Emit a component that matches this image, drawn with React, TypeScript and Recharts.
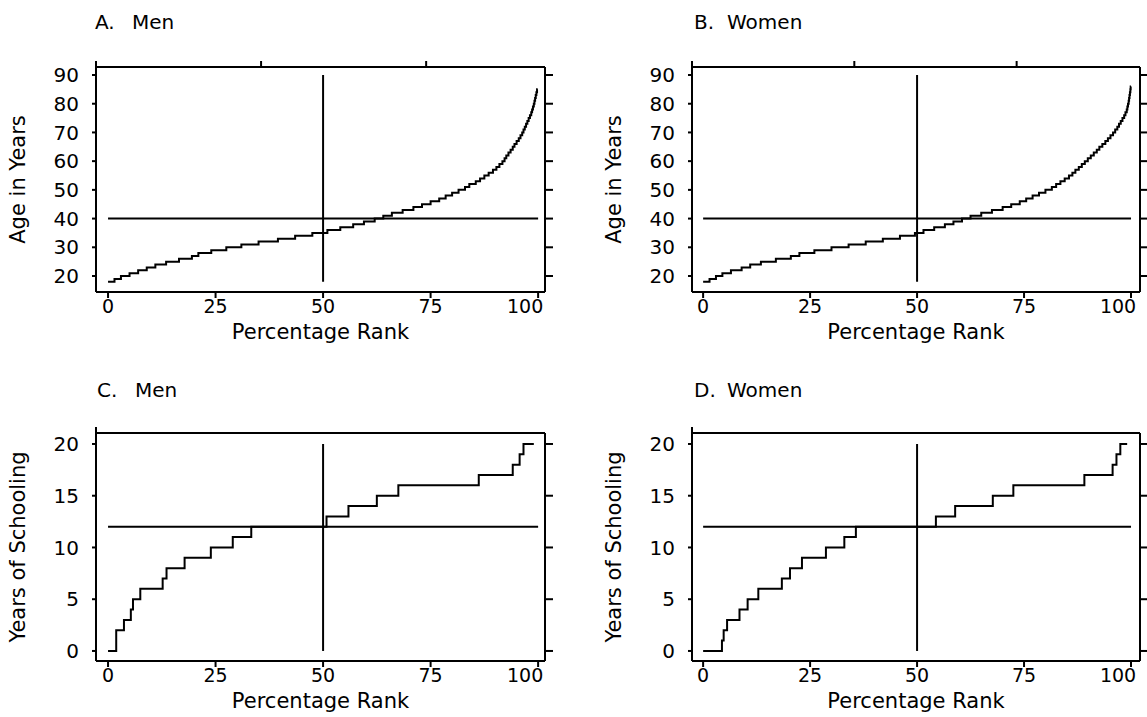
import React from "react";
import { LineChart, Line, XAxis, YAxis, ReferenceLine } from "recharts";

// percentage rank at which each age (years) starts
const menAgeRank = [
  0, 1.5, 3, 5, 7, 9, 11, 13.5, 16.5, 19.5, 21, 24, 27.5, 31, 35, 39.5, 43.5, 47.5, 51, 54, 57, 59.5, 62, 64,
  66, 68.5, 71, 73, 75, 77, 78.5, 80, 81.5, 83, 84, 85.5, 86.5, 87.5, 88.5, 89.5, 90.3, 91, 91.7, 92.2, 92.6,
  93.1, 93.6, 94.1, 94.5, 95, 95.5, 95.9, 96.3, 96.6, 96.9, 97.2, 97.5, 97.8, 98.1, 98.4, 98.6, 98.8, 99,
  99.15, 99.3, 99.45, 99.6, 99.75,
];
const menAgeYears = [
  18, 19, 20, 21, 22, 23, 24, 25, 26, 27, 28, 29, 30, 31, 32, 33, 34, 35, 36, 37, 38, 39, 40, 41, 42, 43, 44,
  45, 46, 47, 48, 49, 50, 51, 52, 53, 54, 55, 56, 57, 58, 59, 60, 61, 62, 63, 64, 65, 66, 67, 68, 69, 70, 71,
  72, 73, 74, 75, 76, 77, 78, 79, 80, 81, 82, 83, 84, 85,
];
const womenAgeRank = [
  0, 1.5, 3, 4.5, 6.5, 9, 11, 13.5, 17, 20.5, 22.5, 26, 30, 34, 38, 42, 46, 49.5, 51.5, 54, 56.5, 58.5, 60.5,
  62.5, 65, 67.5, 70, 72, 74, 75.5, 77, 78.5, 80, 81.5, 82.5, 83.5, 84.5, 85.5, 86.3, 87, 87.8, 88.5, 89.2,
  89.9, 90.6, 91.3, 92, 92.6, 93.3, 94, 94.6, 95.2, 95.8, 96.3, 96.8, 97.2, 97.6, 98, 98.4, 98.7, 99, 99.15,
  99.3, 99.45, 99.55, 99.65, 99.75, 99.85, 99.92,
];
const womenAgeYears = [
  18, 19, 20, 21, 22, 23, 24, 25, 26, 27, 28, 29, 30, 31, 32, 33, 34, 35, 36, 37, 38, 39, 40, 41, 42, 43, 44,
  45, 46, 47, 48, 49, 50, 51, 52, 53, 54, 55, 56, 57, 58, 59, 60, 61, 62, 63, 64, 65, 66, 67, 68, 69, 70, 71,
  72, 73, 74, 75, 76, 77, 78, 79, 80, 81, 82, 83, 84, 85, 86,
];

// percentage rank at which each schooling level starts
const menSchoolRank = [0, 1.9, 3.7, 5.3, 5.8, 7.5, 12.7, 13.6, 17.8, 23.9, 29, 33.3, 50.8, 55.9, 62.5, 67.5, 86.2, 94.1, 95.7, 96.6];
const menSchoolYears = [0, 2, 3, 4, 5, 6, 7, 8, 9, 10, 11, 12, 13, 14, 15, 16, 17, 18, 19, 20];
const womenSchoolRank = [0, 4.4, 4.8, 5.6, 8.5, 10.4, 12.9, 18.4, 20.3, 23.1, 28.7, 33, 35.7, 54.4, 58.9, 67.7, 72.5, 89.1, 95.7, 96.6, 97.5];
const womenSchoolYears = [0, 1, 2, 3, 4, 5, 6, 7, 8, 9, 10, 11, 12, 13, 14, 15, 16, 17, 18, 19, 20];

// last rank of each curve
const curveEnd = { menAge: 99.9, womenAge: 100, menSchool: 99, womenSchool: 99.1 };

const rankTicks = [0, 25, 50, 75, 100];
const ageTicks = [20, 30, 40, 50, 60, 70, 80, 90];
const schoolTicks = [0, 5, 10, 15, 20];

const FONT = '"DejaVu Sans", sans-serif';
const INK = "#000";
const AXIS = { stroke: INK, strokeWidth: 2 };

const toSteps = (ranks: number[], vals: number[], end: number) => [
  ...ranks.map((r, i) => ({ rank: r, value: vals[i] })),
  { rank: end, value: vals[vals.length - 1] },
];

const BottomTick = (props: any) => {
  const { x, y, payload } = props;
  const shift = payload.value === 100 ? -13 : 0;
  return (
    <text x={x + shift} y={y} dy="0.74em" textAnchor="middle" fontSize={19} fontFamily={FONT} fill={INK}>
      {payload.value}
    </text>
  );
};

const NoTick = () => <g />;

interface PanelProps {
  frame: { left: number; top: number; right: number; bottom: number };
  data: { rank: number; value: number }[];
  xDomain: [number, number];
  yDomain: [number, number];
  yTicks: number[];
  hLine: number;
  vSeg: [number, number];
}

function Panel({ frame, data, xDomain, yDomain, yTicks, hLine, vSeg }: PanelProps) {
  const width = frame.right - frame.left + 96 + 8;
  const height = frame.bottom - frame.top + 67 + 50;
  return (
    <div style={{ position: "absolute", left: frame.left - 96, top: frame.top - 67 }}>
      <LineChart width={width} height={height} data={data} margin={{ top: 47, left: 6, right: 1, bottom: 0 }}>
        <XAxis
          type="number"
          dataKey="rank"
          domain={xDomain}
          ticks={rankTicks}
          allowDataOverflow
          interval={0}
          height={50}
          tickSize={6}
          tickMargin={1}
          axisLine={AXIS}
          tickLine={AXIS}
          tick={BottomTick}
        />
        <XAxis
          xAxisId="top"
          orientation="top"
          type="number"
          domain={xDomain}
          ticks={rankTicks}
          allowDataOverflow
          interval={0}
          height={20}
          tickSize={6}
          axisLine={AXIS}
          tickLine={AXIS}
          tick={NoTick}
        />
        <YAxis
          type="number"
          domain={yDomain}
          ticks={yTicks}
          allowDataOverflow
          interval={0}
          width={90}
          tickSize={4}
          tickMargin={13}
          axisLine={AXIS}
          tickLine={AXIS}
          tick={{ fontSize: 20, fontFamily: FONT, fill: INK }}
        />
        <YAxis
          yAxisId="right"
          orientation="right"
          type="number"
          domain={yDomain}
          ticks={yTicks}
          allowDataOverflow
          interval={0}
          width={7}
          tickSize={8}
          axisLine={AXIS}
          tickLine={AXIS}
          tick={NoTick}
        />
        <ReferenceLine
          segment={[{ x: 0, y: hLine }, { x: 100, y: hLine }]}
          stroke={INK}
          strokeWidth={2}
          ifOverflow="visible"
        />
        <ReferenceLine
          segment={[{ x: 50, y: vSeg[0] }, { x: 50, y: vSeg[1] }]}
          stroke={INK}
          strokeWidth={2}
          ifOverflow="visible"
        />
        <Line
          type="stepAfter"
          dataKey="value"
          stroke={INK}
          strokeWidth={2}
          dot={false}
          activeDot={false}
          isAnimationActive={false}
        />
      </LineChart>
    </div>
  );
}

const frameA = { left: 96, top: 67, right: 545, bottom: 292 };
const frameB = { left: 692, top: 67, right: 1140, bottom: 292 };
const frameC = { left: 96, top: 433, right: 545, bottom: 661 };
const frameD = { left: 692, top: 433, right: 1140, bottom: 661 };

const textStyle = { fontFamily: FONT, fill: INK };

export default function App() {
  const frames = [frameA, frameB, frameC, frameD];
  const titles = [
    { head: "A.", word: "Men", x: 95, wx: 132, y: 29 },
    { head: "B.", word: "Women", x: 694, wx: 727, y: 29 },
    { head: "C.", word: "Men", x: 97, wx: 135, y: 397 },
    { head: "D.", word: "Women", x: 694, wx: 727, y: 397 },
  ];
  const yTitles = ["Age in Years", "Age in Years", "Years of Schooling", "Years of Schooling"];
  return (
    <div
      style={{
        position: "absolute",
        left: 0,
        top: 0,
        width: 1147,
        height: 717,
        background: "#fff",
        overflow: "hidden",
      }}
    >
      <Panel
        frame={frameA}
        data={toSteps(menAgeRank, menAgeYears, curveEnd.menAge)}
        xDomain={[-2.8, 101.6]}
        yDomain={[14.43, 92.79]}
        yTicks={ageTicks}
        hLine={40}
        vSeg={[18, 90]}
      />
      <Panel
        frame={frameB}
        data={toSteps(womenAgeRank, womenAgeYears, curveEnd.womenAge)}
        xDomain={[-2.6, 102.1]}
        yDomain={[14.43, 92.79]}
        yTicks={ageTicks}
        hLine={40}
        vSeg={[18, 90]}
      />
      <Panel
        frame={frameC}
        data={toSteps(menSchoolRank, menSchoolYears, curveEnd.menSchool)}
        xDomain={[-2.8, 101.6]}
        yDomain={[-0.97, 21.06]}
        yTicks={schoolTicks}
        hLine={12}
        vSeg={[0, 20]}
      />
      <Panel
        frame={frameD}
        data={toSteps(womenSchoolRank, womenSchoolYears, curveEnd.womenSchool)}
        xDomain={[-2.6, 102.1]}
        yDomain={[-0.97, 21.06]}
        yTicks={schoolTicks}
        hLine={12}
        vSeg={[0, 20]}
      />
      <svg width={1147} height={717} style={{ position: "absolute", left: 0, top: 0, pointerEvents: "none" }}>
        {titles.map((t) => (
          <text key={t.head} x={t.x} y={t.y} fontSize={20} {...textStyle}>
            {t.head} <tspan x={t.wx}>{t.word}</tspan>
          </text>
        ))}
        {frames.map((f, i) => {
          const cx = (f.left + f.right) / 2;
          const cy = (f.top + f.bottom) / 2;
          const tx = f.left - 78;
          return (
            <g key={i}>
              <text x={cx} y={f.bottom + 47} textAnchor="middle" fontSize={21} {...textStyle}>
                Percentage Rank
              </text>
              <text
                x={tx}
                y={cy}
                textAnchor="middle"
                dominantBaseline="central"
                fontSize={21}
                transform={`rotate(-90 ${tx} ${cy})`}
                {...textStyle}
              >
                {yTitles[i]}
              </text>
            </g>
          );
        })}
      </svg>
    </div>
  );
}
